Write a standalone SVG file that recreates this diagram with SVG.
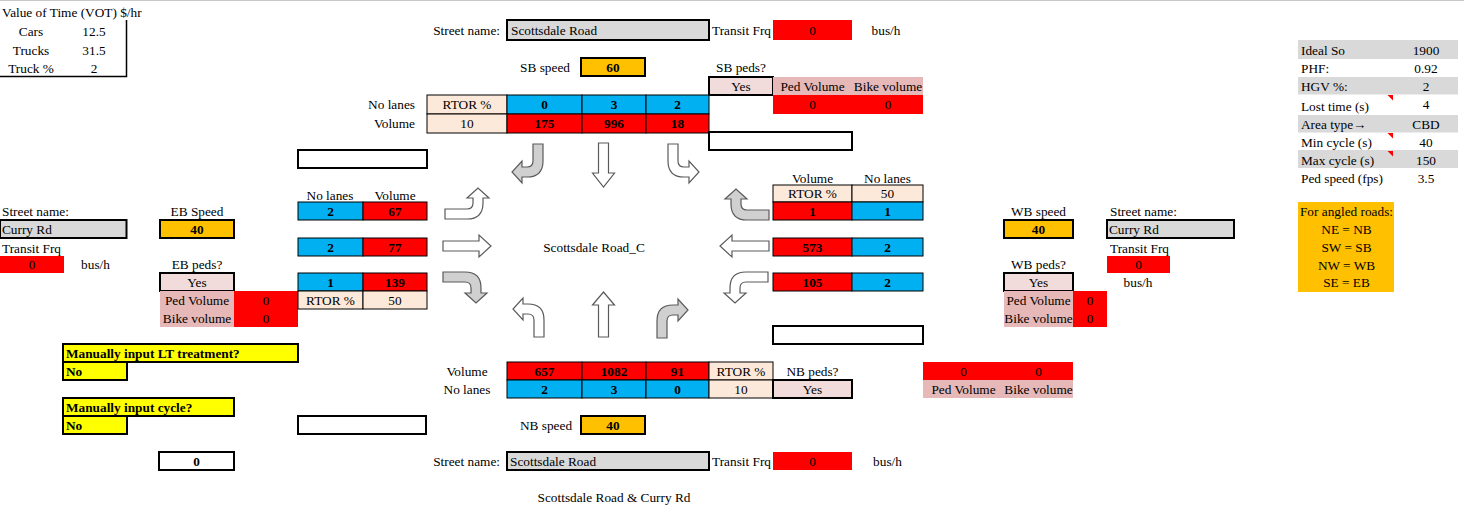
<svg xmlns="http://www.w3.org/2000/svg" width="1464" height="510" viewBox="0 0 1464 510">
<style>
text{font-family:"Liberation Serif","Times New Roman",serif;font-size:13.3px;fill:#000}
.c{text-anchor:middle}
.e{text-anchor:end}
.b{font-weight:bold}
.red{fill:#ff0000}
.blu{fill:#00b0f0}
.org{fill:#ffc000}
.gry{fill:#d9d9d9}
.pch{fill:#fde9d9}
.pk1{fill:#f2dcdb}
.pk2{fill:#e6b8b7}
.yel{fill:#ffff00}
.wht{fill:#ffffff}
.th{stroke:#000;stroke-width:1}
.tk{stroke:#000;stroke-width:2}
.aw{fill:#ffffff;stroke:#5a5a5a;stroke-width:1.2}
.ag{fill:#d0d0d0;stroke:#5a5a5a;stroke-width:1.2}
.tri{fill:#ff0000}
</style>
<defs>
<path id="tv" d="M0,39 L0,22 Q0,6 16,6 L21,6 L21,0 L31,11 L21,22 L21,16 L16,16 Q10,16 10,22 L10,39 Z"/>
<path id="th" d="M0,44 L0,22 Q0,6 16,6 L21,6 L21,0 L31,11 L21,22 L21,16 L16,16 Q10,16 10,22 L10,44 Z"/>
</defs>
<rect x="0" y="0" width="1464" height="510" fill="#ffffff"/>
<line x1="0" y1="0.5" x2="1464" y2="0.5" stroke="#c8c8c8" stroke-width="1"/>

<g id="vot">
<text x="2" y="16.5">Value of Time (VOT) $/hr</text>
<text class="c" x="31" y="36">Cars</text><text class="c" x="94" y="36">12.5</text>
<text class="c" x="31" y="54.5">Trucks</text><text class="c" x="94" y="54.5">31.5</text>
<text class="c" x="31" y="72.5">Truck %</text><text class="c" x="94" y="72.5">2</text>
<path d="M126.5,20 V76.5 H0" fill="none" stroke="#000" stroke-width="1.5"/>
</g>

<g id="sb-header">
<text class="e" x="500" y="35">Street name:</text>
<rect class="gry tk" x="507" y="20" width="202" height="20"/>
<text x="511" y="35">Scottsdale Road</text>
<text x="712" y="35">Transit Frq</text>
<rect class="red" x="773" y="20" width="79" height="20"/>
<text class="c" x="812.5" y="35">0</text>
<text class="c" x="886" y="35">bus/h</text>
<text class="c" x="545" y="72">SB speed</text>
<rect class="org tk" x="581" y="58" width="64" height="18"/>
<text class="c b" x="613" y="72">60</text>
</g>

<g id="sb-peds">
<text class="c" x="741" y="72">SB peds?</text>
<rect class="pk1 tk" x="709" y="77" width="64" height="18"/>
<text class="c" x="741" y="90.5">Yes</text>
<rect class="pk2" x="773" y="77" width="150" height="18"/>
<text class="c" x="812.5" y="90.5">Ped Volume</text>
<text class="c" x="888" y="90.5">Bike volume</text>
<rect class="red" x="773" y="95" width="150" height="19"/>
<text class="c" x="812.5" y="109">0</text>
<text class="c" x="888" y="109">0</text>
</g>

<g id="sb-table">
<text class="e" x="415" y="109">No lanes</text>
<text class="e" x="415" y="128">Volume</text>
<rect class="pch th" x="427" y="95" width="80" height="19"/>
<rect class="blu th" x="507" y="95" width="75" height="19"/>
<rect class="blu th" x="582" y="95" width="64" height="19"/>
<rect class="blu th" x="646" y="95" width="63" height="19"/>
<rect class="pch th" x="427" y="114" width="80" height="19"/>
<rect class="red th" x="507" y="114" width="75" height="19"/>
<rect class="red th" x="582" y="114" width="64" height="19"/>
<rect class="red th" x="646" y="114" width="63" height="19"/>
<text class="c" x="467" y="109">RTOR %</text>
<text class="c b" x="544.5" y="109">0</text>
<text class="c b" x="614" y="109">3</text>
<text class="c b" x="677.5" y="109">2</text>
<text class="c" x="467" y="128">10</text>
<text class="c b" x="544.5" y="128">175</text>
<text class="c b" x="614" y="128">996</text>
<text class="c b" x="677.5" y="128">18</text>
</g>

<g id="empty-boxes">
<rect class="wht tk" x="709" y="132" width="143" height="18"/>
<rect class="wht tk" x="298" y="150" width="129" height="18"/>
<rect class="wht tk" x="773" y="326" width="150" height="18"/>
<rect class="wht tk" x="298" y="416" width="128" height="18"/>
</g>

<g id="eb-header">
<text x="2" y="216">Street name:</text>
<rect class="gry tk" x="0" y="220" width="126.5" height="18"/>
<text x="2" y="233.5">Curry Rd</text>
<text x="2" y="253">Transit Frq</text>
<rect class="red" x="0" y="256" width="64" height="17"/>
<text class="c" x="32" y="269">0</text>
<text class="c" x="95.5" y="269">bus/h</text>
<text class="c" x="197" y="216">EB Speed</text>
<rect class="org tk" x="160" y="220" width="74" height="18"/>
<text class="c b" x="197" y="233.5">40</text>
</g>

<g id="eb-peds">
<text class="c" x="197" y="269">EB peds?</text>
<rect class="pk1 tk" x="160" y="273" width="74" height="18"/>
<text class="c" x="197" y="286.5">Yes</text>
<rect class="pk2" x="160" y="291" width="74" height="36"/>
<rect class="red" x="234" y="291" width="64" height="36"/>
<text class="c" x="197" y="304.5">Ped Volume</text>
<text class="c" x="197" y="322.5">Bike volume</text>
<text class="c" x="266" y="304.5">0</text>
<text class="c" x="266" y="322.5">0</text>
</g>

<g id="eb-table">
<text class="c" x="330" y="199.5">No lanes</text>
<text class="c" x="395" y="199.5">Volume</text>
<rect class="blu th" x="298" y="202" width="65" height="18"/>
<rect class="red th" x="363" y="202" width="64" height="18"/>
<text class="c b" x="330.5" y="215.5">2</text><text class="c b" x="395" y="215.5">67</text>
<rect class="blu th" x="298" y="238" width="65" height="18"/>
<rect class="red th" x="363" y="238" width="64" height="18"/>
<text class="c b" x="330.5" y="251.5">2</text><text class="c b" x="395" y="251.5">77</text>
<rect class="blu th" x="298" y="273" width="65" height="18"/>
<rect class="red th" x="363" y="273" width="64" height="18"/>
<text class="c b" x="330.5" y="286.5">1</text><text class="c b" x="395" y="286.5">139</text>
<rect class="pch th" x="298" y="291" width="65" height="18"/>
<rect class="pch th" x="363" y="291" width="64" height="18"/>
<text class="c" x="330.5" y="304.5">RTOR %</text><text class="c" x="395" y="304.5">50</text>
</g>

<g id="wb-table">
<text class="c" x="812.5" y="182.5">Volume</text>
<text class="c" x="887.5" y="182.5">No lanes</text>
<rect class="pch th" x="773" y="185" width="79" height="17"/>
<rect class="pch th" x="852" y="185" width="71" height="17"/>
<text class="c" x="812.5" y="198">RTOR %</text><text class="c" x="887.5" y="198">50</text>
<rect class="red th" x="773" y="202" width="79" height="18"/>
<rect class="blu th" x="852" y="202" width="71" height="18"/>
<text class="c b" x="812.5" y="215.5">1</text><text class="c b" x="887.5" y="215.5">1</text>
<rect class="red th" x="773" y="238" width="79" height="18"/>
<rect class="blu th" x="852" y="238" width="71" height="18"/>
<text class="c b" x="812.5" y="251.5">573</text><text class="c b" x="887.5" y="251.5">2</text>
<rect class="red th" x="773" y="273" width="79" height="18"/>
<rect class="blu th" x="852" y="273" width="71" height="18"/>
<text class="c b" x="812.5" y="286.5">105</text><text class="c b" x="887.5" y="286.5">2</text>
</g>

<g id="wb-header">
<text class="c" x="1038.5" y="216">WB speed</text>
<rect class="org tk" x="1004" y="220" width="69" height="18"/>
<text class="c b" x="1038.5" y="233.5">40</text>
<text x="1110" y="216">Street name:</text>
<rect class="gry tk" x="1107" y="220" width="127" height="18"/>
<text x="1109" y="233.5">Curry Rd</text>
<text x="1110" y="253">Transit Frq</text>
<rect class="red" x="1107" y="256" width="63" height="17"/>
<text class="c" x="1138.5" y="269">0</text>
<text class="c" x="1138" y="287">bus/h</text>
</g>

<g id="wb-peds">
<text class="c" x="1038.5" y="269">WB peds?</text>
<rect class="pk1 tk" x="1004" y="273" width="69" height="18"/>
<text class="c" x="1038.5" y="286.5">Yes</text>
<rect class="pk2" x="1004" y="291" width="69" height="36"/>
<rect class="red" x="1073" y="291" width="34" height="36"/>
<text class="c" x="1038.5" y="304.5">Ped Volume</text>
<text class="c" x="1038.5" y="322.5">Bike volume</text>
<text class="c" x="1090" y="304.5">0</text>
<text class="c" x="1090" y="322.5">0</text>
</g>

<g id="nb-table">
<text class="c" x="467" y="375.5">Volume</text>
<text class="c" x="467" y="393.5">No lanes</text>
<rect class="red th" x="507" y="362" width="75" height="18"/>
<rect class="red th" x="582" y="362" width="64" height="18"/>
<rect class="red th" x="646" y="362" width="63" height="18"/>
<rect class="pch th" x="709" y="362" width="64" height="18"/>
<rect class="blu th" x="507" y="380" width="75" height="18"/>
<rect class="blu th" x="582" y="380" width="64" height="18"/>
<rect class="blu th" x="646" y="380" width="63" height="18"/>
<rect class="pch th" x="709" y="380" width="64" height="18"/>
<text class="c b" x="544.5" y="375.5">657</text>
<text class="c b" x="614" y="375.5">1082</text>
<text class="c b" x="677.5" y="375.5">91</text>
<text class="c" x="741" y="375.5">RTOR %</text>
<text class="c b" x="544.5" y="393.5">2</text>
<text class="c b" x="614" y="393.5">3</text>
<text class="c b" x="677.5" y="393.5">0</text>
<text class="c" x="741" y="393.5">10</text>
</g>

<g id="nb-peds">
<text class="c" x="812.5" y="375.5">NB peds?</text>
<rect class="pk1 tk" x="773" y="380" width="79" height="18"/>
<text class="c" x="812.5" y="393.5">Yes</text>
<rect class="red" x="923" y="362" width="150" height="18"/>
<rect class="pk2" x="923" y="380" width="150" height="18"/>
<text class="c" x="963.5" y="375.5">0</text>
<text class="c" x="1038.5" y="375.5">0</text>
<text class="c" x="963.5" y="393.5">Ped Volume</text>
<text class="c" x="1038.5" y="393.5">Bike volume</text>
</g>

<g id="nb-header">
<text class="c" x="546" y="430">NB speed</text>
<rect class="org tk" x="581" y="416" width="64" height="18"/>
<text class="c b" x="613" y="429.5">40</text>
<text class="e" x="500" y="465.5">Street name:</text>
<rect class="gry tk" x="507" y="452" width="202" height="18"/>
<text x="510" y="465.5">Scottsdale Road</text>
<text x="712" y="465.5">Transit Frq</text>
<rect class="red" x="773" y="452" width="79" height="18"/>
<text class="c" x="812.5" y="465.5">0</text>
<text class="c" x="887.5" y="465.5">bus/h</text>
<text class="c" x="614" y="501.5">Scottsdale Road &amp; Curry Rd</text>
</g>

<g id="manual-inputs">
<rect class="yel tk" x="63" y="344" width="235" height="18"/>
<text class="b" x="66" y="357.5">Manually input LT treatment?</text>
<rect class="yel tk" x="63" y="362" width="64" height="18"/>
<text class="b" x="66" y="375.5">No</text>
<rect class="yel tk" x="63" y="398" width="171" height="18"/>
<text class="b" x="66" y="411.5">Manually input cycle?</text>
<rect class="yel tk" x="63" y="416" width="64" height="18"/>
<text class="b" x="66" y="429.5">No</text>
<rect class="wht tk" x="159" y="452" width="75" height="18"/>
<text class="c b" x="196.5" y="465.5">0</text>
</g>

<g id="params">
<rect class="gry" x="1298" y="40" width="160" height="19"/>
<rect class="gry" x="1298" y="77" width="160" height="17.5"/>
<rect class="gry" x="1298" y="115" width="160" height="17.5"/>
<rect class="gry" x="1298" y="150" width="160" height="18"/>
<text x="1301" y="54.5">Ideal So</text><text class="c" x="1426" y="54.5">1900</text>
<text x="1301" y="72.5">PHF:</text><text class="c" x="1426" y="72.5">0.92</text>
<text x="1301" y="91">HGV %:</text><text class="c" x="1426" y="91">2</text>
<text x="1301" y="111">Lost time (s)</text><text class="c" x="1426" y="109">4</text>
<text x="1301" y="128.5">Area type→</text><text class="c" x="1426" y="128.5">CBD</text>
<text x="1301" y="146.5">Min cycle (s)</text><text class="c" x="1426" y="146.5">40</text>
<text x="1301" y="164.5">Max cycle (s)</text><text class="c" x="1426" y="164.5">150</text>
<text x="1301" y="182.5">Ped speed (fps)</text><text class="c" x="1426" y="182.5">3.5</text>
<polygon class="tri" points="1387.5,95 1393,95 1393,100.5"/>
<polygon class="tri" points="1387.5,133 1393,133 1393,138.5"/>
<polygon class="tri" points="1387.5,151 1393,151 1393,156.5"/>
</g>

<g id="angled-note">
<rect class="org" x="1298" y="202" width="96" height="90"/>
<text class="c" x="1346.5" y="216">For angled roads:</text>
<text class="c" x="1346.5" y="234">NE = NB</text>
<text class="c" x="1346.5" y="252">SW = SB</text>
<text class="c" x="1346.5" y="269.5">NW = WB</text>
<text class="c" x="1346.5" y="287">SE = EB</text>
</g>

<g id="center-label">
<text class="c" x="594" y="252">Scottsdale Road_C</text>
</g>

<g id="arrows">
<use href="#tv" class="ag" transform="matrix(-1,0,0,-1,543,183)"/>
<path class="aw" d="M598.5,143 H608.5 V173 H614.5 L603.5,187 L592.5,173 H598.5 Z"/>
<use href="#tv" class="aw" transform="matrix(1,0,0,-1,668,183)"/>
<use href="#th" class="aw" transform="matrix(0,-1,-1,0,489,219)"/>
<path class="aw" d="M443,241 H479 V235 L491,246 L479,257 V251 H443 Z"/>
<use href="#th" class="ag" transform="matrix(0,1,-1,0,487,272)"/>
<use href="#th" class="ag" transform="matrix(0,-1,1,0,725,220)"/>
<path class="aw" d="M769,241 H732 V235 L720,246 L732,257 V251 H769 Z"/>
<use href="#th" class="aw" transform="matrix(0,1,1,0,724,272)"/>
<use href="#tv" class="aw" transform="matrix(-1,0,0,1,544,298)"/>
<path class="aw" d="M598.5,337 H608.5 V305 H614.5 L603.5,292 L592.5,305 H598.5 Z"/>
<use href="#tv" class="ag" transform="translate(657,299)"/>
</g>
</svg>
